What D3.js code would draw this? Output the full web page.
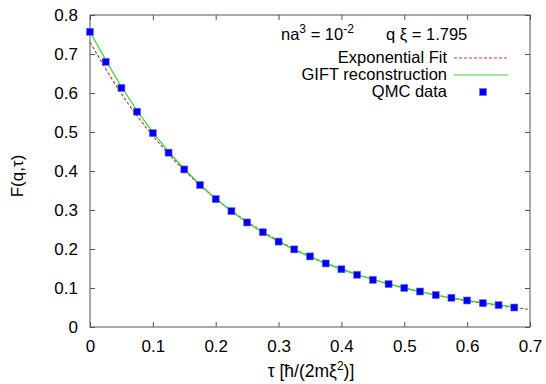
<!DOCTYPE html>
<html>
<head>
<meta charset="utf-8">
<style>
body { margin: 0; background: #fff; }
text { font-family: "Liberation Sans", Arial, sans-serif; fill: #000; }
.axis path, .axis line { stroke: #555; }
</style>
</head>
<body>
<svg width="546" height="384"></svg>
<script src="https://d3js.org/d3.v7.min.js"></script>
<script>

// QMC data, tau in steps of 0.025
var qmcTau = [0, 0.025, 0.05, 0.075, 0.1, 0.125, 0.15, 0.175, 0.2, 0.225, 0.25, 0.275, 0.3, 0.325,
  0.35, 0.375, 0.4, 0.425, 0.45, 0.475, 0.5, 0.525, 0.55, 0.575, 0.6, 0.625, 0.65, 0.675];
var qmcF = [0.757, 0.680, 0.613, 0.552, 0.497, 0.447, 0.404, 0.364, 0.328, 0.297, 0.268, 0.243, 0.219, 0.199,
  0.181, 0.163, 0.148, 0.134, 0.121, 0.110, 0.100, 0.091, 0.082, 0.075, 0.068, 0.061, 0.056, 0.050];

// exponential fit curve
var fitTau = [0, 0.05, 0.1, 0.15, 0.2, 0.25, 0.3, 0.35, 0.4, 0.45, 0.5, 0.55, 0.6, 0.65, 0.7];
var fitF = [0.730, 0.598, 0.490, 0.402, 0.329, 0.270, 0.221, 0.181, 0.149, 0.122, 0.100, 0.082, 0.067, 0.055, 0.045];

// GIFT reconstruction curve
var giftTau = [0, 0.05, 0.1, 0.15, 0.2, 0.25, 0.3, 0.35, 0.4, 0.45, 0.5, 0.55, 0.6, 0.65, 0.68];
var giftF = [0.757, 0.616, 0.499, 0.405, 0.329, 0.268, 0.219, 0.180, 0.148, 0.122, 0.100, 0.082, 0.068, 0.057, 0.050];

var xTicks = [0, 0.1, 0.2, 0.3, 0.4, 0.5, 0.6, 0.7];
var yTicks = [0, 0.1, 0.2, 0.3, 0.4, 0.5, 0.6, 0.7, 0.8];

var svg = d3.select("svg");
var pLeft = 90, pRight = 530, pTop = 15, pBottom = 327;

var x = d3.scaleLinear().domain([0, 0.7]).range([pLeft, pRight]);
var y = d3.scaleLinear().domain([0, 0.8]).range([pBottom, pTop]);

// frame
svg.append("rect")
  .attr("x", pLeft).attr("y", pTop)
  .attr("width", pRight - pLeft).attr("height", pBottom - pTop)
  .attr("fill", "none").attr("stroke", "#555");

// inward ticks on all four sides
function fmt(d) { return d === 0 ? "0" : d3.format(".1f")(d); }

svg.append("g").attr("class", "axis")
  .attr("transform", "translate(0," + pBottom + ")")
  .call(d3.axisBottom(x).tickValues(xTicks).tickSize(-5).tickPadding(13).tickFormat(fmt))
  .call(function(g) { g.select(".domain").remove(); })
  .selectAll("text").style("font-size", "17px").style("font-family", "Liberation Sans, Arial, sans-serif").attr("fill", "#000");

svg.append("g").attr("class", "axis")
  .attr("transform", "translate(0," + pTop + ")")
  .call(d3.axisTop(x).tickValues(xTicks).tickSize(-5).tickFormat(""))
  .call(function(g) { g.select(".domain").remove(); });

svg.append("g").attr("class", "axis")
  .attr("transform", "translate(" + pLeft + ",0)")
  .call(d3.axisLeft(y).tickValues(yTicks).tickSize(-5).tickPadding(12).tickFormat(fmt))
  .call(function(g) { g.select(".domain").remove(); })
  .selectAll("text").style("font-size", "17px").style("font-family", "Liberation Sans, Arial, sans-serif").attr("fill", "#000");

svg.append("g").attr("class", "axis")
  .attr("transform", "translate(" + pRight + ",0)")
  .call(d3.axisRight(y).tickValues(yTicks).tickSize(-5).tickFormat(""))
  .call(function(g) { g.select(".domain").remove(); });

// curves
var line = d3.line()
  .x(function(d) { return x(d[0]); })
  .y(function(d) { return y(d[1]); })
  .curve(d3.curveNatural);

svg.append("path")
  .datum(d3.zip(fitTau, fitF))
  .attr("d", line)
  .attr("fill", "none").attr("stroke", "#d03a3a").attr("stroke-width", 1.2)
  .attr("stroke-dasharray", "3,2");

svg.append("path")
  .datum(d3.zip(giftTau, giftF))
  .attr("d", line)
  .attr("fill", "none").attr("stroke", "#3ad63a").attr("stroke-width", 1.3);

var sq = 7;
svg.append("g").selectAll("rect")
  .data(d3.zip(qmcTau, qmcF))
  .enter().append("rect")
    .attr("x", function(d) { return x(d[0]) - sq / 2; })
    .attr("y", function(d) { return y(d[1]) - sq / 2; })
    .attr("width", sq).attr("height", sq)
    .attr("fill", "#0000f0").attr("stroke", "#6a6af5").attr("stroke-width", 0.6);

// header line
var hdr = svg.append("text").attr("x", 281).attr("y", 40).style("font-size", "16.5px");
hdr.append("tspan").text("na");
hdr.append("tspan").attr("dy", -7).style("font-size", "12px").text("3");
hdr.append("tspan").attr("dy", 7).text(" = 10");
hdr.append("tspan").attr("dy", -7).style("font-size", "12px").text("-2");
svg.append("text").attr("x", 386).attr("y", 40).style("font-size", "16.5px").text("q \u03be = 1.795");

// legend
var legY = [58, 75, 92];
var legText = ["Exponential Fit", "GIFT reconstruction", "QMC data"];
svg.append("g").selectAll("text")
  .data(legText)
  .enter().append("text")
    .attr("x", 447)
    .attr("y", function(d, i) { return legY[i] + 5; })
    .attr("text-anchor", "end")
    .style("font-size", "16.5px")
    .text(function(d) { return d; });

svg.append("line").attr("x1", 454).attr("x2", 508).attr("y1", legY[0]).attr("y2", legY[0])
  .attr("stroke", "#d03a3a").attr("stroke-width", 1).attr("stroke-dasharray", "3,2");
svg.append("line").attr("x1", 454).attr("x2", 508).attr("y1", legY[1]).attr("y2", legY[1])
  .attr("stroke", "#3ad63a").attr("stroke-width", 1.2);
svg.append("rect").attr("x", 483 - sq / 2).attr("y", legY[2] - sq / 2).attr("width", sq).attr("height", sq)
  .attr("fill", "#0000f0").attr("stroke", "#6a6af5").attr("stroke-width", 0.6);

// axis labels
svg.append("text")
  .attr("transform", "translate(23,176) rotate(-90)")
  .attr("text-anchor", "middle")
  .style("font-size", "17px")
  .text("F(q,\u03c4)");

var xl = svg.append("text").attr("x", 311).attr("y", 377).attr("text-anchor", "middle").style("font-size", "17.5px");
xl.append("tspan").text("\u03c4 [\u0127/(2m\u03be");
xl.append("tspan").attr("dy", -7).style("font-size", "12px").text("2");
xl.append("tspan").attr("dy", 7).text(")]");

</script>
</body>
</html>
